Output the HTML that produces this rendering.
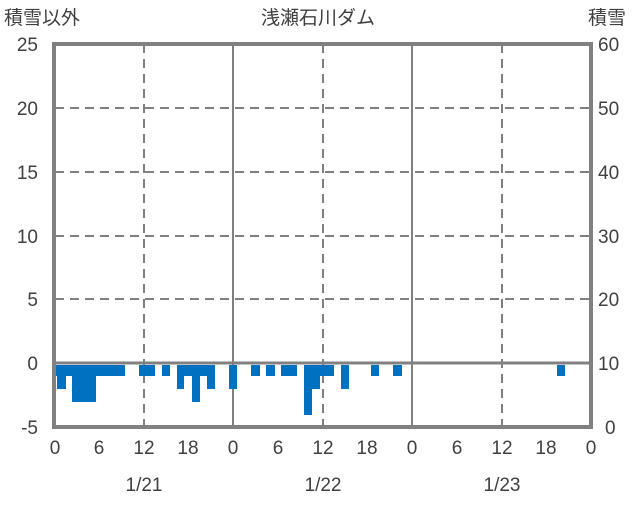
<!DOCTYPE html>
<html><head><meta charset="utf-8"><style>
body{margin:0;background:#fff}
svg text{font-family:"Liberation Sans","Noto Sans CJK JP",sans-serif;fill:#404040;font-size:19px}
</style></head><body>
<svg width="636" height="501" xmlns="http://www.w3.org/2000/svg">
<g stroke="#808080" stroke-width="2" stroke-dasharray="9,6">
<line x1="55" y1="108" x2="591" y2="108"/>
<line x1="55" y1="172" x2="591" y2="172"/>
<line x1="55" y1="236" x2="591" y2="236"/>
<line x1="55" y1="299" x2="591" y2="299"/>
<line x1="144" y1="44" x2="144" y2="427"/>
<line x1="323" y1="44" x2="323" y2="427"/>
<line x1="502" y1="44" x2="502" y2="427"/>
</g>
<g stroke="#808080" stroke-width="2">
<line x1="233" y1="44" x2="233" y2="427"/>
<line x1="412" y1="44" x2="412" y2="427"/>
</g>
<line x1="55" y1="363" x2="591" y2="363" stroke="#808080" stroke-width="3"/>
<g fill="#0070C0">
<rect x="55" y="365" width="70" height="11"/>
<rect x="57" y="365" width="9" height="24"/>
<rect x="72" y="365" width="24" height="37"/>
<rect x="139" y="365" width="16" height="11"/>
<rect x="162" y="365" width="8" height="11"/>
<rect x="177" y="365" width="38" height="11"/>
<rect x="177" y="365" width="7" height="24"/>
<rect x="192" y="365" width="8" height="37"/>
<rect x="207" y="365" width="8" height="24"/>
<rect x="229" y="365" width="8" height="24"/>
<rect x="251" y="365" width="9" height="11"/>
<rect x="266" y="365" width="9" height="11"/>
<rect x="281" y="365" width="16" height="11"/>
<rect x="304" y="365" width="30" height="11"/>
<rect x="304" y="365" width="8" height="50"/>
<rect x="312" y="365" width="8" height="24"/>
<rect x="341" y="365" width="8" height="24"/>
<rect x="371" y="365" width="8" height="11"/>
<rect x="393" y="365" width="9" height="11"/>
<rect x="557" y="365" width="8" height="11"/>
</g>
<rect x="54" y="44" width="537" height="383" fill="none" stroke="#808080" stroke-width="4"/>
<text x="4" y="24">積雪以外</text>
<text x="318" y="24" text-anchor="middle">浅瀬石川ダム</text>
<text x="588" y="24">積雪</text>
<g text-anchor="end">
<text x="38" y="51">25</text><text x="38" y="115">20</text><text x="38" y="179">15</text>
<text x="38" y="243">10</text><text x="38" y="306">5</text><text x="38" y="370">0</text><text x="38" y="434">-5</text>
</g>
<g>
<text x="598" y="51">60</text><text x="598" y="115">50</text><text x="598" y="179">40</text>
<text x="598" y="243">30</text><text x="598" y="306">20</text><text x="598" y="370">10</text><text x="605" y="434">0</text>
</g>
<g text-anchor="middle">
<text x="55" y="454">0</text><text x="99" y="454">6</text><text x="144" y="454">12</text><text x="188" y="454">18</text>
<text x="233" y="454">0</text><text x="278" y="454">6</text><text x="323" y="454">12</text><text x="367" y="454">18</text>
<text x="412" y="454">0</text><text x="457" y="454">6</text><text x="502" y="454">12</text><text x="546" y="454">18</text>
<text x="591" y="454">0</text>
<text x="144" y="491">1/21</text><text x="323" y="491">1/22</text><text x="502" y="491">1/23</text>
</g>
</svg>
</body></html>
